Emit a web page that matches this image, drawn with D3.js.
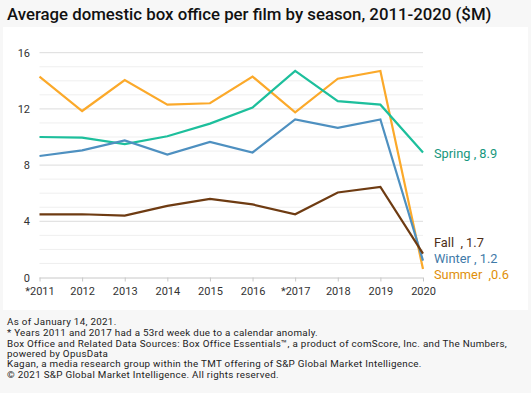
<!DOCTYPE html>
<meta charset="UTF-8">
<style>
body { margin: 0; background: #f7f7f7; }
svg { display: block; }
.title { font: 500 16.8px Roboto, sans-serif; fill: #111; }
.tick text { font: 11px Roboto, sans-serif; fill: #333; }
.note { font: 9.8px Roboto, sans-serif; fill: #222; letter-spacing: 0.3px; }
.lbl { font: 12.8px Roboto, sans-serif; }
.series { fill: none; stroke-width: 2.2px; stroke-linejoin: miter; }
</style>
<body>
<script src="https://d3js.org/d3.v7.min.js"></script>
<script>

var years = ["*2011", "2012", "2013", "2014", "2015", "2016", "*2017", "2018", "2019", "2020"];
var summer = [14.3, 11.85, 14.05, 12.3, 12.4, 14.3, 11.75, 14.15, 14.7, 0.6];
var spring = [10.0, 9.95, 9.5, 10.05, 10.95, 12.1, 14.7, 12.55, 12.3, 8.9];
var winter = [8.65, 9.05, 9.75, 8.75, 9.65, 8.9, 11.25, 10.65, 11.25, 1.2];
var fall = [4.5, 4.5, 4.4, 5.1, 5.6, 5.2, 4.5, 6.05, 6.45, 1.7];
var yTicks = [0, 4, 8, 12, 16];
var notes = [
  "As of January 14, 2021.",
  "* Years 2011 and 2017 had a 53rd week due to a calendar anomaly.",
  "Box Office and Related Data Sources: Box Office Essentials\u2122, a product of comScore, Inc. and The Numbers,",
  "powered by OpusData",
  "Kagan, a media research group within the TMT offering of S&P Global Market Intelligence.",
  "\u00a9 2021 S&P Global Market Intelligence. All rights reserved."
];

var series = [
  {name: "Summer", values: summer, color: "#fba92a", text: "#e08f0a", label: "Summer  ,0.6", dy: 279},
  {name: "Spring", values: spring, color: "#1dbf9c", text: "#17977d", label: "Spring , 8.9", dy: 158},
  {name: "Winter", values: winter, color: "#4e90c0", text: "#3f7aa8", label: "Winter , 1.2", dy: 263},
  {name: "Fall", values: fall, color: "#6e3b12", text: "#4d2e17", label: "Fall  , 1.7", dy: 247}
];

var W = 531, H = 393;
var svg = d3.select("body").append("svg").attr("width", W).attr("height", H);

svg.append("rect").attr("x", 3).attr("y", 27).attr("width", 525).attr("height", 283).attr("fill", "#fff");

svg.append("text").attr("class", "title").attr("x", 7).attr("y", 20)
  .text("Average domestic box office per film by season, 2011-2020 ($M)");

var x = d3.scalePoint().domain(years).range([39.5, 423]);
var y = d3.scaleLinear().domain([0, 16]).range([277.5, 52.7]);

// grid: light every 1, darker every 4
var g = svg.append("g");
g.selectAll("line.minor").data(d3.range(1, 17)).enter().append("line")
  .attr("x1", 39.5).attr("x2", 423)
  .attr("y1", d => y(d)).attr("y2", d => y(d))
  .attr("stroke", d => d % 4 === 0 ? "#dcdcdc" : "#efefef").attr("stroke-width", 1);

var yAxis = svg.append("g").attr("transform", "translate(30,0)")
  .call(d3.axisLeft(y).tickValues(yTicks).tickSize(0).tickPadding(0));
yAxis.select(".domain").remove();

var xAxis = svg.append("g").attr("transform", "translate(0,277.5)")
  .call(d3.axisBottom(x).tickSize(4).tickPadding(6));
xAxis.select(".domain").attr("stroke", "#c8c8c8").attr("d", "M39.5,0.5H423");
xAxis.selectAll(".tick line").attr("stroke", "#c8c8c8");

var line = d3.line().x((d, i) => x(years[i])).y(d => y(d));

svg.selectAll("path.series").data(series).enter().append("path")
  .attr("class", "series")
  .attr("stroke", d => d.color)
  .attr("d", d => line(d.values));

svg.selectAll("text.lbl").data(series).enter().append("text")
  .attr("class", "lbl")
  .attr("x", 434).attr("y", d => d.dy)
  .attr("fill", d => d.text)
  .style("white-space", "pre")
  .text(d => d.label);

svg.selectAll("text.note").data(notes).enter().append("text")
  .attr("class", "note")
  .attr("x", 7).attr("y", (d, i) => 325 + i * 10.3 + (i > 0 ? 1 : 0))
  .text(d => d);

</script>
</body>
